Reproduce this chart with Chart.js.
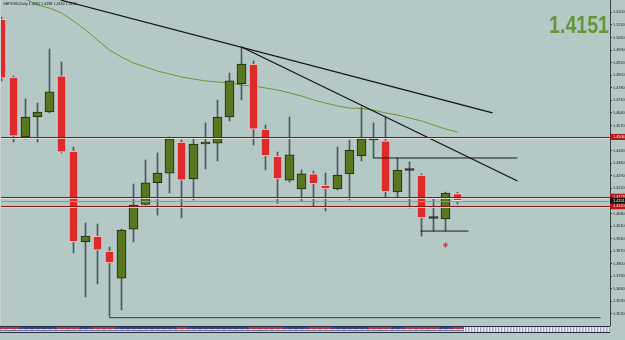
<!DOCTYPE html>
<html><head><meta charset="utf-8">
<script src="https://cdn.jsdelivr.net/npm/chart.js@4/dist/chart.umd.min.js"></script>
<style>html,body{margin:0;padding:0;background:#b4c8c6;overflow:hidden}#wrap{width:625px;height:340px;position:relative}</style>
</head><body><div id="wrap"><canvas id="c" width="625" height="340"></canvas></div>
<script>
const symbolTitle = 'GBPUSD,Daily';
const dates = ['12 Jan 2009','13 Jan 2009','14 Jan 2009','15 Jan 2009','16 Jan 2009','19 Jan 2009','20 Jan 2009','21 Jan 2009','22 Jan 2009','23 Jan 2009','26 Jan 2009','27 Jan 2009','28 Jan 2009','29 Jan 2009','30 Jan 2009','2 Feb 2009','3 Feb 2009','4 Feb 2009','5 Feb 2009','6 Feb 2009','9 Feb 2009','10 Feb 2009','11 Feb 2009','12 Feb 2009','13 Feb 2009','16 Feb 2009','17 Feb 2009','18 Feb 2009','19 Feb 2009','20 Feb 2009','23 Feb 2009','24 Feb 2009','25 Feb 2009','26 Feb 2009','27 Feb 2009','2 Mar 2009','3 Mar 2009','4 Mar 2009','5 Mar 2009'];
const opens  = [1.5163,1.4840,1.4506,1.4617,1.4645,1.4846,1.4428,1.3921,1.3954,1.3871,1.3720,1.3993,1.4130,1.4252,1.4305,1.4478,1.4272,1.4467,1.4472,1.4617,1.4801,1.4912,1.4550,1.4400,1.4266,1.4216,1.4300,1.4238,1.4216,1.4300,1.4400,1.4492,1.4484,1.4200,1.4322,1.4294,1.4055,1.4049,1.4191];
const highs  = [1.5174,1.4846,1.4718,1.4695,1.4996,1.4924,1.4450,1.4027,1.4021,1.3893,1.3993,1.4244,1.4378,1.4417,1.4506,1.4489,1.4495,1.4584,1.4712,1.4862,1.5007,1.4929,1.4573,1.4422,1.4617,1.4322,1.4316,1.4305,1.4450,1.4489,1.4673,1.4584,1.4617,1.4389,1.4367,1.4300,1.4160,1.4199,1.4198];
const lows   = [1.4818,1.4478,1.4495,1.4478,1.4640,1.4417,1.3860,1.3615,1.3687,1.3503,1.3542,1.3921,1.4127,1.4071,1.4194,1.4055,1.4155,1.4328,1.4372,1.4595,1.4712,1.4461,1.4322,1.4138,1.4255,1.4149,1.4121,1.4094,1.4211,1.4155,1.4372,1.4389,1.4172,1.4166,1.4110,1.3954,1.3982,1.3982,1.4132];
const closes = [1.4834,1.4511,1.4617,1.4645,1.4757,1.4422,1.3921,1.3954,1.3876,1.3804,1.3988,1.4127,1.4250,1.4305,1.4495,1.4266,1.4467,1.4478,1.4617,1.4818,1.4912,1.4550,1.4400,1.4272,1.4406,1.4300,1.4244,1.4216,1.4294,1.4433,1.4495,1.4489,1.4200,1.4322,1.4319,1.4055,1.4052,1.4194,1.4151];
const maValues = [1.5319,1.5297,1.5274,1.5241,1.5224,1.5197,1.5152,1.5102,1.5046,1.4990,1.4951,1.4918,1.4896,1.4873,1.4857,1.4840,1.4829,1.4818,1.4812,1.4807,1.4795,1.4790,1.4779,1.4768,1.4751,1.4734,1.4712,1.4695,1.4679,1.4667,1.4665,1.4656,1.4640,1.4628,1.4612,1.4595,1.4573,1.4550,1.4534];
const trendA_x = [4.92, 40.92], trendA_y = [1.5269, 1.4640];
const trendB_x = [20, 43],      trendB_y = [1.5007, 1.4261];
const seg1_x = [31, 43],        seg1_y = [1.4389, 1.4389];
const seg2_x = [34.92, 38.92],  seg2_y = [1.3982, 1.3982];
const seg3_x = [9, 49.92],      seg3_y = [1.3500, 1.3500];
const redLevels = [1.4506, 1.4173, 1.4120];
const bidPrice = 1.4151;
const headerValues = ['1.4191','1.4198','1.4132','1.4151'];
const markerX = [37], markerY = [1.3904];
const yTicks = [1.5200,1.5130,1.5060,1.4990,1.4920,1.4850,1.4780,1.4710,1.4640,1.4570,1.4500,1.4430,1.4360,1.4290,1.4220,1.4150,1.4080,1.4010,1.3940,1.3870,1.3800,1.3730,1.3660,1.3590,1.3520];
const xTickIdx = [0,2,4,6,8,10,12,14,16,18,20,22,24,26,28,30,32,34,36,38];
const yMin = 1.34587, yMax = 1.52689;
const xMin = -0.125, xMax = 50.7083;

const FONT = '"Liberation Sans", Arial, sans-serif';
const isDoji = i => Math.abs(closes[i]-opens[i]) < 0.0005;
const bodyFill = dates.map((d,i)=> isDoji(i) ? '#3a1c1c' : (closes[i]>opens[i] ? '#58761f' : '#e02a2a'));
const bodyBorder = dates.map((d,i)=> isDoji(i) ? '#3a1c1c' : (closes[i]>opens[i] ? '#1f2b0b' : '#efd8d8'));

const decor = {
  id:'decor',
  beforeDraw(chart){
    const c=chart.ctx; c.save(); c.fillStyle='#b4c8c6'; c.fillRect(0,0,chart.width,chart.height); c.restore();
  },
  afterDatasetsDraw(chart){
    const {ctx:c, chartArea:a, scales:{y}} = chart;
    c.save();
    c.beginPath(); c.rect(a.left,a.top,a.right-a.left,a.bottom-a.top); c.clip();
    const by = Math.round(y.getPixelForValue(bidPrice))+0.5;
    c.strokeStyle='#8a9a9a'; c.lineWidth=1;
    c.beginPath(); c.moveTo(a.left,by); c.lineTo(a.right,by); c.stroke();
    redLevels.forEach(v=>{
      const py = Math.round(y.getPixelForValue(v))+0.5;
      c.strokeStyle='rgba(240,222,222,0.85)'; c.lineWidth=1;
      c.beginPath(); c.moveTo(a.left,py+1); c.lineTo(a.right,py+1); c.stroke();
      c.strokeStyle='#8e1212'; c.lineWidth=1;
      c.beginPath(); c.moveTo(a.left,py); c.lineTo(a.right,py); c.stroke();
    });
    c.restore();
  },
  afterDraw(chart){
    const {ctx:c, chartArea:a, scales:{x,y}} = chart;
    c.save();
    c.fillStyle='#cdd8d6'; c.fillRect(0,0,1,a.bottom);
    const sTop = a.bottom+1;
    c.fillStyle='#2a2c40'; c.fillRect(0,sTop,a.right,1);
    c.fillStyle='#c8cfe0'; c.fillRect(0,sTop+1,a.right,5);
    for(let i=0;i<dates.length;i++){
      const px = Math.round(x.getPixelForValue(i)-6);
      c.fillStyle = closes[i]>=opens[i] ? '#3b4190' : '#b23a4c';
      c.fillRect(Math.max(0,px),sTop+1,12,2);
      c.fillStyle = '#f4f4f8';
      c.fillRect(Math.max(0,px)+2,sTop+3,2,1); c.fillRect(Math.max(0,px)+8,sTop+3,2,1);
      c.fillStyle = '#6a6f9a'; c.fillRect(Math.max(0,px),sTop+4,12,1);
    }
    const lastX = Math.round(x.getPixelForValue(dates.length-1)+6);
    for(let px=lastX; px<a.right; px+=3){
      c.fillStyle='#f2f3f8'; c.fillRect(px,sTop+1,1,5);
      c.fillStyle='#9aa0b8'; c.fillRect(px+1,sTop+1,1,5);
    }
    c.fillStyle='#2a2c40'; c.fillRect(0,sTop+6,a.right,1);
    c.font = '3.8px '+FONT; c.textBaseline='middle'; c.textAlign='left';
    redLevels.forEach(v=>{
      const py = y.getPixelForValue(v);
      c.fillStyle='#b51616'; c.fillRect(a.right,py-3,chart.width-a.right,6);
      c.fillStyle='#ffffff'; c.fillText(v.toFixed(4), a.right+3, py);
    });
    const bp = y.getPixelForValue(bidPrice);
    c.fillStyle='#101010'; c.fillRect(a.right,bp-3,chart.width-a.right,6);
    c.fillStyle='#ffffff'; c.fillText(bidPrice.toFixed(4), a.right+3, bp);
    c.font = '3.7px '+FONT; c.textBaseline='top'; c.fillStyle='#101010';
    c.fillText(symbolTitle+' '+headerValues.join(' '), 3, 2);
    c.fillStyle='#67953a'; c.textAlign='right'; c.textBaseline='alphabetic';
    c.translate(609,33); c.scale(0.98,1.15);
    c.font = 'bold 20px '+FONT;
    c.fillText(bidPrice.toFixed(4), 0, 0);
    c.restore();
  }
};

const idx = dates.map((d,i)=>i);
new Chart(document.getElementById('c'), {
  type:'bar',
  data:{ datasets:[
    { type:'line', label:'marker', data: markerX.map((v,k)=>({x:v,y:markerY[k]})), showLine:false,
      pointStyle:'star', pointRadius:2.5, borderColor:'#d23a3a', backgroundColor:'#d23a3a', borderWidth:1, order:0 },
    { type:'line', label:'trendA', data: trendA_x.map((v,k)=>({x:v,y:trendA_y[k]})), borderColor:'#111', borderWidth:1.2, pointRadius:0, order:1 },
    { type:'line', label:'trendB', data: trendB_x.map((v,k)=>({x:v,y:trendB_y[k]})), borderColor:'#111', borderWidth:1.2, pointRadius:0, order:1 },
    { type:'line', label:'seg1', data: seg1_x.map((v,k)=>({x:v,y:seg1_y[k]})), borderColor:'#1a1a1a', borderWidth:1, pointRadius:0, order:1 },
    { type:'line', label:'seg2', data: seg2_x.map((v,k)=>({x:v,y:seg2_y[k]})), borderColor:'#1a1a1a', borderWidth:1, pointRadius:0, order:1 },
    { type:'line', label:'seg3', data: seg3_x.map((v,k)=>({x:v,y:seg3_y[k]})), borderColor:'#4a4f4f', borderWidth:1.2, pointRadius:0, order:1 },
    { type:'bar', label:'body', data: idx.map(i=>({x:i,y:[opens[i],closes[i]]})), backgroundColor: bodyFill, borderColor: bodyBorder,
      borderWidth:1, borderSkipped:false, barThickness:9, minBarLength:2, grouped:false, order:2 },
    { type:'bar', label:'wick', data: idx.map(i=>({x:i,y:[lows[i],highs[i]]})), backgroundColor:'#4d5959', borderWidth:0,
      barThickness:1, grouped:false, order:3 },
    { type:'line', label:'MA', data: idx.map(i=>({x:i,y:maValues[i]})), borderColor:'#6a9630', borderWidth:1, pointRadius:0, order:4 }
  ]},
  options:{
    responsive:false, animation:false, devicePixelRatio:1,
    layout:{padding:0, autoPadding:false},
    plugins:{legend:{display:false}, tooltip:{enabled:false}},
    scales:{
      x:{ type:'linear', min:xMin, max:xMax, offset:false,
        grid:{display:false}, border:{display:false},
        afterBuildTicks(s){ s.ticks = xTickIdx.map(v=>({value:v})); },
        afterFit(s){ s.height=15; s.paddingLeft=0; s.paddingRight=0; s.paddingTop=0; s.paddingBottom=0; },
        ticks:{ autoSkip:false, maxRotation:0, minRotation:0, align:'start', padding:9, color:'#1c1c1c',
          font:{size:3.7, family:FONT}, callback:v=>dates[Math.round(v)] }
      },
      y:{ type:'linear', position:'right', min:yMin, max:yMax,
        grid:{display:true, drawOnChartArea:false, tickLength:2, color:'#333'},
        border:{display:true, color:'#3c4747', width:1},
        afterBuildTicks(s){ s.ticks = yTicks.map(v=>({value:v})); },
        afterFit(s){ s.width=15; s.paddingLeft=0; s.paddingRight=0; s.paddingTop=0; s.paddingBottom=0; },
        ticks:{ padding:1, color:'#1c1c1c', font:{size:3.8, family:FONT}, callback:v=>v.toFixed(4) }
      }
    }
  },
  plugins:[decor]
});
</script></body></html>
